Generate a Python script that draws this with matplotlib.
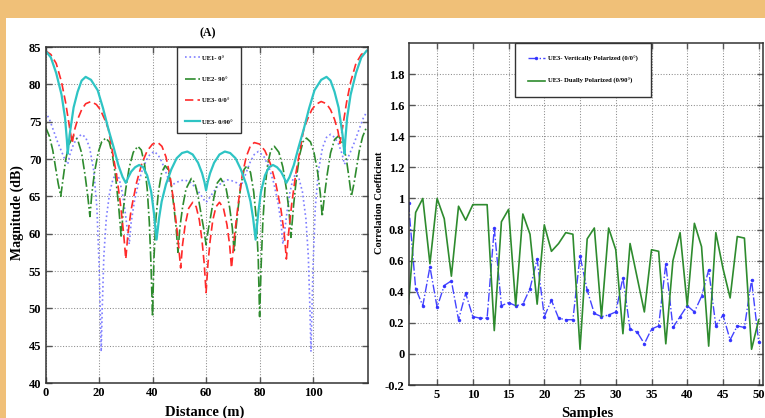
import numpy as np
import matplotlib
matplotlib.use("Agg")
import matplotlib.pyplot as plt
from matplotlib.patches import Rectangle
from matplotlib.ticker import FormatStrFormatter

plt.rcParams['font.family'] = ['Liberation Serif', 'DejaVu Serif']
plt.rcParams['font.weight'] = 'bold'

# ---------------- Panel (A): magnitude vs distance ----------------
dist_ue1 = [0, 1.5, 3, 4.5, 6, 7.3, 8.3, 9.2, 10.5, 12, 13.5, 15, 16.5, 18, 19.2, 20, 20.5, 20.8, 21.2, 21.8,
            22.7, 24, 25.3, 26.5, 27.5, 28.7, 29.8, 30.7, 31.3, 32, 33.2, 34.8, 36.5, 38.5, 40.5, 42, 43.5, 45,
            46.2, 47, 48.5, 50.5, 52, 54, 56, 58, 59.3, 60,
            60.7, 62, 64, 66, 68, 69.5, 71.5, 73, 73.8, 75, 76.5, 78, 79.5, 81.5, 83.5, 85.2, 86.8, 88, 88.7,
            89.3, 90.2, 91.3, 92.5, 93.5, 94.7, 96, 97.3, 98.2, 98.8, 99.2, 99.5, 100, 100.8, 102, 103.5, 105,
            106.5, 108, 109.5, 110.8, 111.7, 112.7, 114, 115.5, 117, 118.5, 120]
mag_ue1 = [76.3, 75.3, 73.8, 72.3, 71.0, 69.9, 69.3, 70.7, 72.0, 72.9, 73.3, 72.9, 71.5, 68.5, 63.5, 56.0, 49.0,
           44.2, 50.0, 57.0, 62.0, 65.6, 67.4, 68.0, 67.4, 65.5, 62.8, 60.2, 58.6, 61.5, 64.3, 66.9, 68.9, 70.4,
           71.0, 70.6, 69.6, 68.2, 67.0, 66.4, 66.8, 67.1, 67.2, 66.9, 66.2, 65.2, 64.5, 64.2,
           64.5, 65.2, 66.2, 66.9, 67.2, 67.1, 66.8, 66.4, 67.0, 68.2, 69.6, 70.6, 71.0, 70.4, 68.9, 66.9, 64.3,
           61.5, 58.6, 60.2, 62.8, 65.5, 67.4, 68.0, 67.4, 65.6, 62.0, 57.0, 50.0, 44.2, 49.0, 56.0, 63.5, 68.5,
           71.5, 72.9, 73.3, 72.9, 72.0, 70.7, 69.3, 69.9, 71.0, 72.3, 73.8, 75.3, 76.3]

dist_ue2 = [0, 1.5, 2.7, 3.7, 4.7, 5.7, 6.5, 7.5, 8.7, 10.5, 12, 13.5, 14.8, 15.8, 16.6, 17.3, 18.3, 19.7, 21,
            22.5, 23.8, 25, 26.2, 27.3, 28.3, 29, 30, 31.3, 32.8, 34.5, 35.8, 37, 38, 38.8, 39.4, 40, 40.5, 41.2,
            42.2, 43.4, 44.7, 45.8, 47, 48, 48.8, 49.5, 50.2, 51.2, 52.5, 54.5, 55.8, 57, 58.2, 59.2, 60,
            60.8, 61.8, 63, 64.2, 65.5, 67.5, 68.8, 69.8, 70.5, 71.2, 72, 73, 74.2, 75.3, 76.6, 77.8, 78.8,
            79.5, 80, 80.6, 81.2, 82, 83, 84.2, 85.5, 87.2, 88.7, 90, 91, 91.7, 92.7, 93.8, 95, 96.2, 97.5, 99,
            100.3, 101.7, 102.7, 103.4, 104.2, 105.2, 106.5, 108, 109.5, 111.3, 112.5, 113.5, 114.3, 115.3,
            116.3, 117.3, 118.5, 120]
mag_ue2 = [74.3, 73.0, 71.2, 69.0, 66.8, 65.0, 67.2, 69.8, 71.9, 73.1, 72.6, 70.8, 67.8, 65.0, 62.3, 65.3, 68.2,
           70.9, 72.3, 72.8, 72.3, 70.6, 67.6, 63.8, 59.5, 63.0, 66.0, 68.9, 70.9, 71.7, 71.2, 69.3, 66.0, 61.5,
           56.0, 48.9, 56.5, 61.8, 65.6, 68.2, 69.1, 68.6, 66.5, 63.5, 60.8, 57.5, 60.8, 63.5, 66.0, 67.4, 66.8,
           65.0, 62.5, 60.5, 58.5,
           60.5, 62.5, 65.0, 66.8, 67.4, 66.0, 63.5, 60.8, 57.5, 60.8, 63.5, 66.5, 68.6, 69.1, 68.2, 65.6, 61.8,
           56.5, 48.9, 56.0, 61.5, 66.0, 69.3, 71.2, 71.7, 70.9, 68.9, 66.0, 63.0, 59.5, 63.8, 67.6, 70.6, 72.3,
           72.8, 72.3, 70.9, 68.2, 65.3, 62.3, 65.0, 67.8, 70.8, 72.6, 73.1, 71.9, 69.8, 67.2, 65.0, 66.8, 69.0,
           71.2, 73.0, 74.3]

dist_ue3_00 = [0, 2, 4, 6, 7.5, 9, 10, 10.7, 12, 13.5, 15, 17, 19, 20.5, 22, 23.5, 25, 26.5, 28, 29.2, 30, 30.8,
               32, 34, 36, 38, 40, 42, 43.5, 45, 46.5, 48, 49.3, 50.5, 51.2, 52.2, 53.5, 55, 56.3, 57.5, 58.5,
               59.3, 60,
               60.7, 61.5, 62.5, 63.7, 65, 66.5, 67.8, 68.8, 69.5, 70.7, 72, 73.5, 75, 76.5, 78, 80, 82, 84, 86,
               88, 89.2, 90, 90.8, 92, 93.5, 95, 96.5, 98, 99.5, 101, 103, 105, 106.5, 108, 109.3, 110, 111,
               112.5, 114, 116, 118, 120]
mag_ue3_00 = [84.5, 84.0, 82.8, 80.3, 77.6, 74.2, 72.1, 73.7, 75.3, 76.6, 77.4, 77.7, 77.3, 76.6, 75.4, 74.0,
              71.0, 68.0, 64.0, 60.0, 56.6, 60.0, 63.2, 66.8, 69.4, 71.1, 72.0, 72.2, 71.7, 70.3, 67.8, 64.0,
              60.0, 55.4, 58.5, 61.2, 63.4, 64.2, 63.6, 61.8, 59.0, 56.0, 52.1,
              56.0, 59.0, 61.8, 63.6, 64.2, 63.4, 61.2, 58.5, 55.4, 60.0, 64.0, 67.8, 70.3, 71.7, 72.2, 72.0,
              71.1, 69.4, 66.8, 63.2, 60.0, 56.6, 60.0, 64.0, 68.0, 71.0, 74.0, 75.4, 76.6, 77.3, 77.7, 77.4,
              76.6, 75.3, 73.7, 72.1, 74.2, 77.6, 80.3, 82.8, 84.0, 84.5]

dist_ue3_090 = [0, 2, 4, 6, 7.3, 8, 8.3, 9, 10.5, 12, 13.5, 15, 17, 19.5, 21.5, 23.5, 25.5, 27.2, 28.8, 30, 31,
                32, 33.5, 35, 36.5, 38, 39.5, 40.5, 41.5, 42.4, 43.4, 45, 47, 49, 51, 53, 55, 57, 58.5, 59.4,
                60,
                60.6, 61.5, 63, 65, 67, 69, 71, 73, 75, 76.6, 77.6, 78.5, 79.5, 80.5, 82, 83.5, 85, 86.5, 88, 89,
                90, 91.2, 92.8, 94.5, 96.5, 98.5, 100.5, 103, 105, 106.5, 108, 109.5, 111, 111.7, 112, 112.7,
                114, 116, 118, 120]
mag_ue3_090 = [84.5, 83.6, 81.5, 78.6, 75.5, 72.5, 70.7, 73.2, 76.9, 79.0, 80.5, 81.0, 80.6, 79.2, 76.8, 74.0,
               71.5, 69.2, 67.6, 66.8, 67.6, 68.3, 68.9, 69.2, 68.9, 67.8, 65.6, 62.8, 59.2, 62.0, 64.3, 66.6,
               68.6, 70.1, 70.8, 71.0, 70.6, 69.5, 68.1, 66.9, 65.8,
               66.9, 68.1, 69.5, 70.6, 71.0, 70.8, 70.1, 68.6, 66.6, 64.3, 62.0, 59.2, 62.8, 65.6, 67.8, 68.9,
               69.2, 68.9, 68.3, 67.6, 66.8, 67.6, 69.2, 71.5, 74.0, 76.8, 79.2, 80.6, 81.0, 80.5, 79.0, 76.9,
               73.2, 70.7, 72.5, 75.5, 78.6, 81.5, 83.6, 84.5]

labels_a = ['UE1- 0°', 'UE2- 90°', 'UE3- 0/0°', 'UE3- 0/90°']
xticks_a = [0, 20, 40, 60, 80, 100]
yticks_a = [40, 45, 50, 55, 60, 65, 70, 75, 80, 85]

# ---------------- Panel (B): correlation vs samples ----------------
samples = list(range(1, 51))
corr_vertical = [0.97, 0.42, 0.31, 0.56, 0.30, 0.44, 0.47, 0.22, 0.39, 0.24,
                 0.23, 0.23, 0.81, 0.31, 0.33, 0.31, 0.32, 0.42, 0.61, 0.24,
                 0.345, 0.23, 0.22, 0.22, 0.63, 0.41, 0.26, 0.24, 0.25, 0.27,
                 0.49, 0.16, 0.14, 0.065, 0.16, 0.18, 0.58, 0.17, 0.24, 0.31,
                 0.27, 0.37, 0.54, 0.18, 0.25, 0.09, 0.18, 0.17, 0.475, 0.075]
corr_dual = [0.32, 0.91, 1.0, 0.58, 1.0, 0.87, 0.50, 0.95, 0.86, 0.96,
             0.96, 0.96, 0.15, 0.85, 0.93, 0.31, 0.90, 0.77, 0.32, 0.83,
             0.66, 0.71, 0.78, 0.77, 0.03, 0.74, 0.81, 0.24, 0.81, 0.67,
             0.13, 0.71, 0.49, 0.27, 0.67, 0.66, 0.065, 0.60, 0.78, 0.31,
             0.84, 0.69, 0.05, 0.78, 0.55, 0.36, 0.755, 0.745, 0.03, 0.22]
labels_b = ['UE3- Vertically Polarized (0/0°)', 'UE3- Dually Polarized (0/90°)']
xticks_b = [5, 10, 15, 20, 25, 30, 35, 40, 45, 50]
yticks_b = [-0.2, 0, 0.2, 0.4, 0.6, 0.8, 1.0, 1.2, 1.4, 1.6, 1.8]

W, H = 765, 418
fig = plt.figure(figsize=(W / 100, H / 100), dpi=100)
fig.patch.set_facecolor('#F0C078')
fig.add_artist(Rectangle((6 / W, 0), 1 - 6 / W, 1 - 18 / H, transform=fig.transFigure,
                         facecolor='white', edgecolor='none', zorder=-5))

ax1 = fig.add_axes([45.5 / W, 1 - 383 / H, (368 - 45.5) / W, (383 - 47) / H])
ax2 = fig.add_axes([408.5 / W, 1 - 385 / H, (763 - 408.5) / W, (385 - 43) / H])

def style(ax):
    ax.set_facecolor('white')
    ax.grid(True, linestyle=':', color='#8c8c8c', linewidth=0.75)
    ax.set_axisbelow(True)
    ax.tick_params(direction='in', top=True, right=True, length=4, width=1.0, color='#555555',
                   labelsize=9, pad=3)
    for lab in ax.get_xticklabels() + ax.get_yticklabels():
        lab.set_fontweight('bold')
    for s in ax.spines.values():
        s.set_color('#333333')
        s.set_linewidth(1.1)

# Panel A lines
ax1.plot(dist_ue1, mag_ue1, linestyle=':', color='#7f7fff', lw=1.2, label=labels_a[0])
ax1.plot(dist_ue2, mag_ue2, linestyle='-.', color='#2e8b2e', lw=1.2, label=labels_a[1])
ax1.plot(dist_ue3_00, mag_ue3_00, linestyle=(0, (5, 2.5)), color='#ff2a2a', lw=1.2, label=labels_a[2])
ax1.plot(dist_ue3_090, mag_ue3_090, linestyle='-', color='#2ec4c4', lw=1.6, label=labels_a[3])
ax1.set_xlim(0, 120.5)
ax1.set_ylim(40, 85)
ax1.set_xticks(xticks_a)
ax1.set_yticks(yticks_a)
style(ax1)
leg1 = ax1.legend(loc='upper left', bbox_to_anchor=((177 - 45.5) / 322.5, 1.0), borderaxespad=0,
                  prop={'family': 'Liberation Serif', 'weight': 'bold', 'size': 4.8},
                  labelspacing=2.35, handlelength=2.2, handletextpad=0.4, borderpad=1.2,
                  fancybox=False, framealpha=1, edgecolor='#333333')
leg1.get_frame().set_linewidth(1.0)

# Panel B lines
ax2.plot(samples, corr_vertical, linestyle='-.', marker='.', markersize=3, color='#2f2fff', lw=1.0,
         alpha=0.9, label=labels_b[0])
ax2.plot(samples, corr_dual, linestyle='-', color='#2e8b2e', lw=1.2, label=labels_b[1])
ax2.set_xlim(1, 50.6)
ax2.set_ylim(-0.2, 2.0)
ax2.set_xticks(xticks_b)
ax2.set_yticks(yticks_b)
ax2.yaxis.set_major_formatter(FormatStrFormatter('%g'))
style(ax2)
leg2 = ax2.legend(loc='upper left', bbox_to_anchor=((515 - 408.5) / 354.5, 1.0), borderaxespad=0,
                  prop={'family': 'Liberation Serif', 'weight': 'bold', 'size': 4.8},
                  labelspacing=2.5, handlelength=2.6, handletextpad=0.5, borderpad=1.9,
                  fancybox=False, framealpha=1, edgecolor='#333333')
leg2.get_frame().set_linewidth(1.0)

# Texts
fig.text(208 / W, 1 - 33 / H, '(A)', ha='center', va='center', fontsize=8.5, fontweight='bold')
fig.text(205 / W, 1 - 412 / H, 'Distance (m)', ha='center', va='center', fontsize=10.5, fontweight='bold')
fig.text(587 / W, 1 - 413 / H, 'Samples', ha='center', va='center', fontsize=10.5, fontweight='bold')
fig.text(17 / W, 1 - 213 / H, 'Magnitude (dB)', ha='center', va='center', rotation=90, fontsize=10,
         fontweight='bold')
fig.text(380 / W, 1 - 203 / H, 'Correlation Coefficient', ha='center', va='center', rotation=90,
         fontsize=7.5, fontweight='bold')

fig.savefig('out.png', dpi=100, facecolor=fig.get_facecolor())
